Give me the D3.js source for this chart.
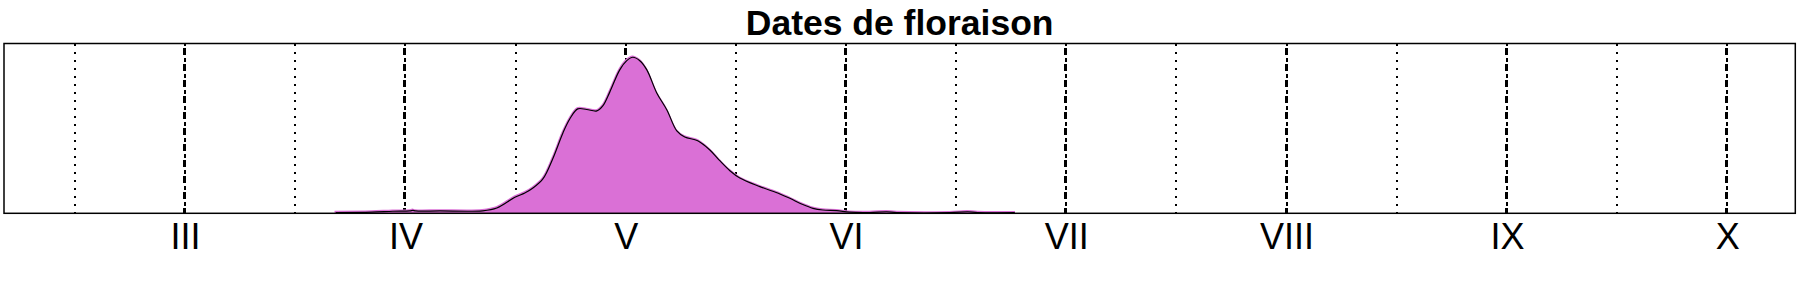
<!DOCTYPE html>
<html>
<head>
<meta charset="utf-8">
<script src="https://cdn.jsdelivr.net/npm/d3@7"></script>
<style>
  body { margin: 0; background: #fff; }
  svg { display: block; }
</style>
</head>
<body>
<div id="chart"></div>
<script>
// month ticks (III = mars ... X = octobre)
const months = [3, 4, 5, 6, 7, 8, 9, 10];
const monthLabels = ['III', 'IV', 'V', 'VI', 'VII', 'VIII', 'IX', 'X'];
const halfMonths = [2.5, 3.5, 4.5, 5.5, 6.5, 7.5, 8.5, 9.5];

// density of flowering dates (peak = 100)
const dayPos = [3.684, 3.848, 3.943, 4.020, 4.034, 4.047, 4.156, 4.351, 4.415, 4.497,
    4.542, 4.579, 4.624, 4.669, 4.715, 4.746, 4.782, 4.823, 4.869, 4.896,
    4.928, 4.973, 5.005, 5.032, 5.064, 5.096, 5.141, 5.187, 5.232, 5.268,
    5.327, 5.382, 5.427, 5.473, 5.518, 5.609, 5.700, 5.745, 5.804, 5.850,
    5.895, 5.958, 6.017, 6.108, 6.185, 6.231, 6.471, 6.553, 6.598, 6.766];
const density = [0.5, 0.8, 1.3, 1.5, 1.9, 1.5, 1.5, 1.6, 3.4, 10.3,
    13.0, 16.2, 22.0, 35.0, 51.5, 60.4, 66.9, 66.5, 65.6, 68.8,
    77.8, 91.9, 97.8, 100, 97.8, 91.9, 77.1, 66.2, 52.8, 48.9,
    46.5, 40.6, 33.7, 27.3, 22.6, 17.1, 12.4, 9.6, 5.6, 3.2,
    2.1, 1.7, 0.7, 0.5, 1.0, 0.5, 0.4, 1.0, 0.5, 0.4];

const title = 'Dates de floraison';

// chart constants
const width = 1800, height = 300;
const margin = { top: 43.5, right: 4.7, bottom: 86.7, left: 4 };
const innerW = width - margin.left - margin.right;
const innerH = height - margin.top - margin.bottom;

const svg = d3.select('#chart').append('svg')
    .attr('width', width)
    .attr('height', height);

const plot = svg.append('g')
    .attr('transform', `translate(${margin.left},${margin.top})`);

// scales
const x = d3.scaleLinear()
    .domain([2.178, 10.309])
    .range([0, innerW]);
const y = d3.scaleLinear()
    .domain([0, 108.8])
    .range([innerH, 0]);

// snap vertical lines to whole pixels so the dots stay crisp
const xs = d => Math.round(x(d) + margin.left) - margin.left;

// half-month dotted lines
plot.selectAll('line.half')
    .data(halfMonths)
    .enter()
    .append('line')
    .attr('class', 'half')
    .attr('x1', xs).attr('x2', xs)
    .attr('y1', 0).attr('y2', innerH)
    .attr('stroke', 'black')
    .attr('stroke-width', 2)
    .attr('stroke-dasharray', '2.7,5.3')
    .attr('shape-rendering', 'crispEdges');

// month lines: dot-dash, with thicker dashes
plot.selectAll('line.month')
    .data(months)
    .enter()
    .append('line')
    .attr('class', 'month')
    .attr('x1', xs).attr('x2', xs)
    .attr('y1', 0).attr('y2', innerH)
    .attr('stroke', 'black')
    .attr('stroke-width', 2)
    .attr('stroke-dasharray', '6.7,3.3,3.3,2.7')
    .attr('stroke-dashoffset', 11.2)
    .attr('shape-rendering', 'crispEdges');

plot.selectAll('line.monthBold')
    .data(months)
    .enter()
    .append('line')
    .attr('class', 'monthBold')
    .attr('x1', d => xs(d) - 0.5).attr('x2', d => xs(d) - 0.5)
    .attr('y1', 0).attr('y2', innerH)
    .attr('stroke', 'black')
    .attr('stroke-width', 3)
    .attr('stroke-dasharray', '6.7,9.3')
    .attr('stroke-dashoffset', 11.2)
    .attr('shape-rendering', 'crispEdges');

// density polygon
const pts = dayPos.map((d, i) => [d, density[i]]);

const area = d3.area()
    .x(d => x(d[0]))
    .y0(y(0))
    .y1(d => y(d[1]))
    .curve(d3.curveCatmullRom.alpha(0.5));

const line = d3.line()
    .x(d => x(d[0]))
    .y(d => y(d[1]))
    .curve(d3.curveCatmullRom.alpha(0.5));

plot.append('path')
    .datum(pts)
    .attr('d', area)
    .attr('transform', 'translate(-0.5,-1)')
    .attr('fill', '#DA70D6')
    .attr('stroke', '#DA70D6')
    .attr('stroke-width', 1.5);

plot.append('path')
    .datum(pts)
    .attr('d', line)
    .attr('fill', 'none')
    .attr('stroke', 'black')
    .attr('stroke-width', 1.2);

// frame
plot.append('rect')
    .attr('x', 0).attr('y', 0)
    .attr('width', innerW).attr('height', innerH)
    .attr('fill', 'none')
    .attr('stroke', 'black')
    .attr('stroke-width', 1.5);

// x axis labels (roman months)
const xAxis = plot.append('g')
    .attr('transform', `translate(0,${innerH})`)
    .call(d3.axisBottom(x)
        .tickValues(months)
        .tickFormat((d, i) => monthLabels[i])
        .tickSize(0)
        .tickPadding(10.5));
xAxis.select('.domain').remove();
xAxis.selectAll('text')
    .style('font-family', '"Liberation Sans", Arial, sans-serif')
    .style('font-size', '36px')
    .attr('fill', 'black');

// title
svg.append('text')
    .attr('x', margin.left + innerW / 2)
    .attr('y', 35)
    .attr('text-anchor', 'middle')
    .style('font-family', '"Liberation Sans", Arial, sans-serif')
    .style('font-weight', 'bold')
    .style('font-size', '35.5px')
    .text(title);
</script>
</body>
</html>
